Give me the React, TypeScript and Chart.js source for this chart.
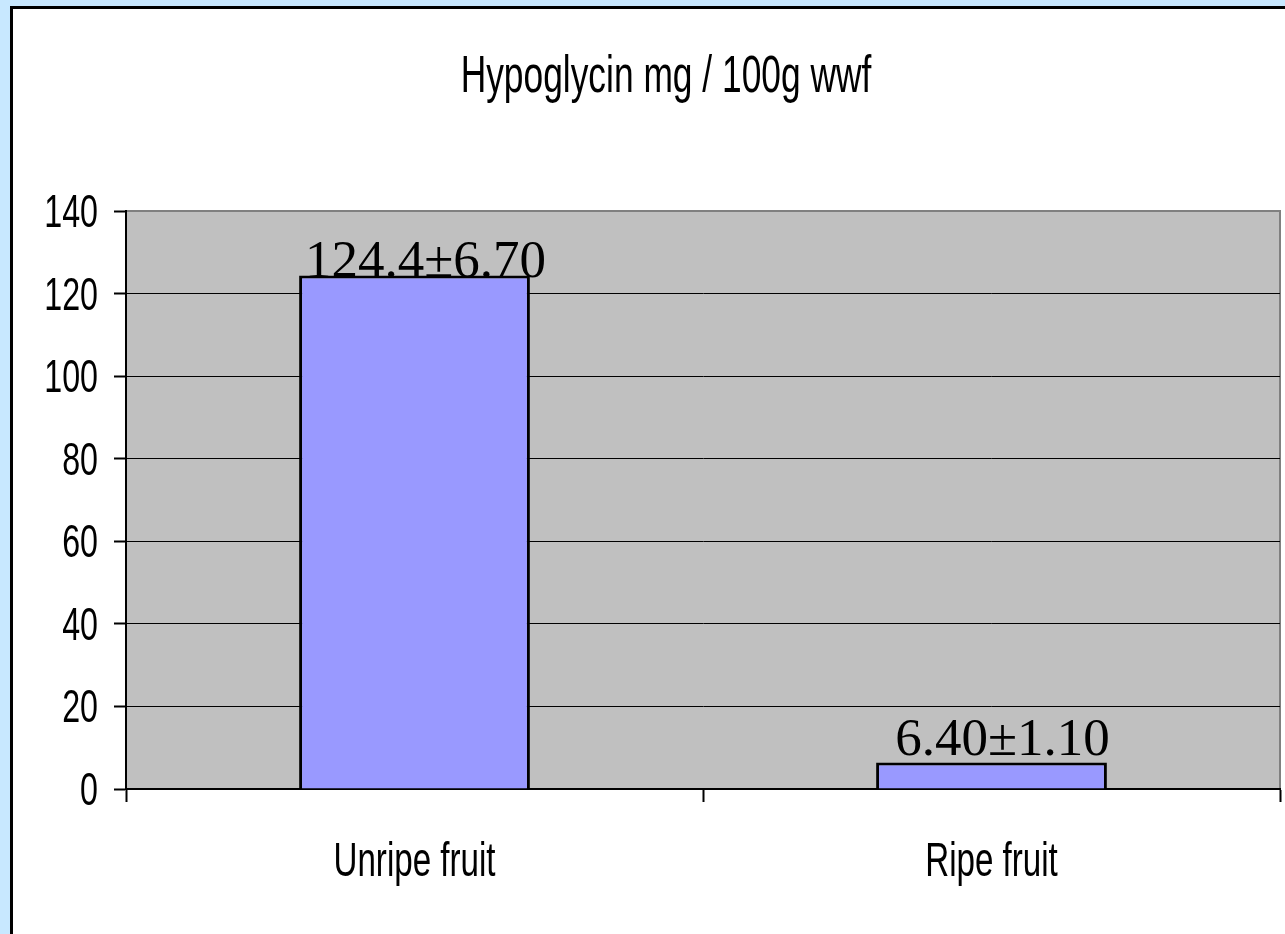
import React, { useEffect, useRef } from "react";
import { Chart, registerables } from "chart.js";

Chart.register(...registerables);

const titleText = "Hypoglycin mg / 100g wwf";
const categories = ["Unripe fruit", "Ripe fruit"];
const hypoglycinValues = [124.4, 6.4];
const valueLabels = ["124.4±6.70", "6.40±1.10"];
const yTickMin = 0;
const yTickMax = 140;
const yTickStep = 20;

const SANS = '"Liberation Sans", Arial, sans-serif';
const SERIF = '"Liberation Serif", "Times New Roman", serif';

function drawNarrow(
  ctx: CanvasRenderingContext2D,
  text: string,
  x: number,
  y: number,
  size: number,
  sx: number,
  align: CanvasTextAlign
) {
  ctx.save();
  ctx.translate(x, y);
  ctx.scale(sx, 1);
  ctx.font = `${size}px ${SANS}`;
  ctx.fillStyle = "#000";
  ctx.textAlign = align;
  ctx.textBaseline = "alphabetic";
  ctx.fillText(text, 0, 0);
  ctx.restore();
}

const plotBackground = {
  id: "plotBackground",
  beforeDraw(chart: any) {
    const { ctx, chartArea } = chart;
    const { left, top, right, bottom } = chartArea;
    ctx.save();
    ctx.fillStyle = "#c0c0c0";
    ctx.fillRect(left, top, right - left, bottom - top);
    ctx.strokeStyle = "#808080";
    ctx.lineWidth = 2;
    ctx.beginPath();
    ctx.moveTo(left, top);
    ctx.lineTo(right, top);
    ctx.lineTo(right, bottom);
    ctx.stroke();
    ctx.restore();
  },
};

// Narrow (condensed) text for title and axis labels, positioned from the library's scales
const narrowText = {
  id: "narrowText",
  afterDraw(chart: any) {
    const { ctx } = chart;
    drawNarrow(ctx, titleText, 666, 92, 52, 0.68, "center");
    const yScale = chart.scales.y;
    yScale.ticks.forEach((t: any, i: number) => {
      const py = yScale.getPixelForTick(i);
      drawNarrow(ctx, String(t.label), 98, py + 16, 46, 0.7, "right");
    });
    const xScale = chart.scales.x;
    xScale.ticks.forEach((t: any, i: number) => {
      const px = xScale.getPixelForTick(i);
      drawNarrow(ctx, String(t.label), px, 876, 48, 0.69, "center");
    });
  },
};

const barLabels = {
  id: "barLabels",
  afterDatasetsDraw(chart: any, _args: any, opts: any) {
    const { ctx } = chart;
    const meta = chart.getDatasetMeta(0);
    ctx.save();
    ctx.fillStyle = "#000";
    ctx.font = `53px ${SERIF}`;
    ctx.textAlign = "center";
    ctx.textBaseline = "alphabetic";
    meta.data.forEach((bar: any, i: number) => {
      const dy = (opts.dy && opts.dy[i]) || 0;
      ctx.fillText(valueLabels[i], bar.x + (opts.dx || 0), bar.y + dy);
    });
    ctx.restore();
  },
};

export default function App() {
  const canvasRef = useRef<HTMLCanvasElement | null>(null);

  useEffect(() => {
    if (!canvasRef.current) return;
    const chart = new Chart(canvasRef.current, {
      type: "bar",
      data: {
        labels: categories,
        datasets: [
          {
            label: titleText,
            data: hypoglycinValues,
            backgroundColor: "#9999ff",
            borderColor: "#000000",
            borderWidth: 3,
            categoryPercentage: 1,
            barPercentage: 0.4,
          },
        ],
      },
      plugins: [plotBackground, barLabels, narrowText],
      options: {
        animation: false,
        responsive: false,
        devicePixelRatio: 1,
        layout: { padding: { left: 0, top: 211, right: 5, bottom: 0 } },
        plugins: {
          legend: { display: false },
          title: { display: false },
          tooltip: { enabled: false },
          barLabels: { dx: 11, dy: [2, -8] },
        } as any,
        scales: {
          x: {
            grid: {
              display: true,
              drawOnChartArea: false,
              drawTicks: true,
              tickLength: 13,
              tickColor: "#000",
              tickWidth: 2,
              offset: true,
            },
            border: { display: true, color: "#000", width: 2 },
            ticks: {
              color: "rgba(0,0,0,0)",
              font: { family: SANS, size: 30 },
              padding: 30,
            },
            afterFit(scale: any) {
              scale.height = 145;
            },
          },
          y: {
            min: yTickMin,
            max: yTickMax,
            ticks: {
              stepSize: yTickStep,
              color: "rgba(0,0,0,0)",
              font: { family: SANS, size: 30 },
              padding: 16,
            },
            grid: {
              color: (c: any) =>
                c.tick && c.tick.value === yTickMax ? "rgba(0,0,0,0)" : "#000",
              lineWidth: 1,
              drawTicks: true,
              tickLength: 12,
              tickColor: "#000",
              tickWidth: 2,
            },
            border: { display: true, color: "#000", width: 2 },
            afterFit(scale: any) {
              scale.width = 126;
            },
          },
        },
      },
    });
    return () => chart.destroy();
  }, []);

  return (
    <div
      style={{
        position: "fixed",
        left: 0,
        top: 0,
        width: 1285,
        height: 934,
        background: "#c8e8ff",
        overflow: "hidden",
      }}
    >
      <div
        style={{
          position: "absolute",
          left: 10,
          top: 6,
          width: 1400,
          height: 1100,
          background: "#ffffff",
          borderLeft: "3px solid #000",
          borderTop: "3px solid #000",
          boxSizing: "border-box",
        }}
      />
      <canvas
        ref={canvasRef}
        width={1285}
        height={934}
        style={{ position: "absolute", left: 0, top: 0 }}
      />
    </div>
  );
}
